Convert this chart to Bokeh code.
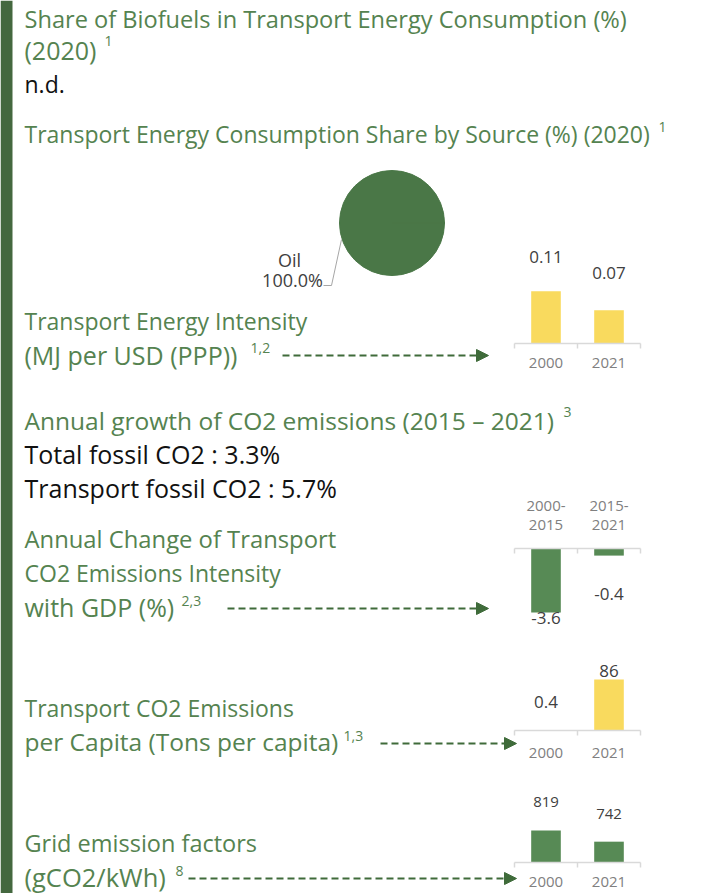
import math
from bokeh.plotting import figure
from bokeh.models import Range1d, Arrow, NormalHead, BoxAnnotation
from bokeh.core.properties import value
from bokeh.embed import file_html
from bokeh.resources import INLINE

# ---------------- data ----------------
biofuel_share = "n.d."
pie_labels = ["Oil"]
pie_values = [100.0]
intensity_years = ["2000", "2021"]
intensity_values = [0.11, 0.07]
growth_labels = ["Total fossil CO2", "Transport fossil CO2"]
growth_values = [3.3, 5.7]
change_periods = ["2000-2015", "2015-2021"]
change_values = [-3.6, -0.4]
percap_years = ["2000", "2021"]
percap_values = [0.4, 86]
grid_years = ["2000", "2021"]
grid_values = [819, 742]

# ---------------- style ----------------
W, H = 717, 893
FONT = "Open Sans"
GREEN_TXT = "#558350"
BLACK = "#111111"
DARK = "#404040"
GRAY = "#808080"
AXIS = "#d9d9d9"
YELLOW = "#f9da5e"
BAR_GREEN = "#578a55"
PIE_GREEN = "#4a7747"
BAND = "#44683f"
ARROW = "#3f6b3a"
SUP = 14     # superscript size

p = figure(width=W, height=H, x_range=Range1d(0, W), y_range=Range1d(H, 0),
           output_backend="svg", toolbar_location=None, min_border=0,
           x_axis_type=None, y_axis_type=None, outline_line_color=None,
           background_fill_color="white", border_fill_color="white",
           styles={"position": "absolute", "left": "0px", "top": "0px"})
p.grid.visible = False


def txt(x, y, s, size, color, align="left", angle=0.0):
    p.text(x=[x], y=[y], text=[s], text_font=value(FONT),
           text_font_size=f"{size}px", text_color=color,
           text_align=align, text_baseline="middle", angle=angle)


# left band
p.add_layout(BoxAnnotation(left=0, right=12, top=0, bottom=H, fill_color=BAND,
                           fill_alpha=1, line_color=None))
txt(6, 480, "Climate Change Mitigation", 8, "white", align="center", angle=math.pi / 2)

# section 1
txt(24, 18, "Share of Biofuels in Transport Energy Consumption (%)", 23.6, GREEN_TXT)
txt(24, 49, "(2020)", 25, GREEN_TXT)
txt(104, 40, "1", SUP, GREEN_TXT)
txt(24, 83, biofuel_share, 23, BLACK)

# section 2 - pie
txt(24, 133, "Transport Energy Consumption Share by Source (%) (2020)", 23, GREEN_TXT)
txt(658, 126, "1", SUP, GREEN_TXT)
total = sum(pie_values)
ang = [0.0]
for v in pie_values:
    ang.append(ang[-1] + v / total * 2 * math.pi)
p.wedge(x=[391.5] * len(pie_values), y=[222.5] * len(pie_values), radius=52.5,
        radius_units="screen", start_angle=ang[:-1], end_angle=ang[1:],
        fill_color=PIE_GREEN, line_color=PIE_GREEN)
p.line(x=[323, 331, 341], y=[285, 285, 239], line_color="#a6a6a6", line_width=1)
txt(289, 259, pie_labels[0], 18, DARK, align="center")
txt(292, 279, f"{pie_values[0]:.1f}%", 18, DARK, align="center")


def bar_chart(name, cats, vals, left, axis_y, amin, amax, span_px, cross, color,
              val_size, label_off, cat_offs, cat_lines, cat_w=63.0, bar_w=0.47):
    k = span_px / (amax - amin)
    x0 = -0.5 - left / cat_w
    p.extra_x_ranges[name] = Range1d(x0, x0 + W / cat_w)
    y0 = cross - (H - axis_y) / k
    p.extra_y_ranges[name] = Range1d(y0, y0 + H / k)
    n = len(vals)
    idx = list(range(n))
    p.vbar(x=idx, top=vals, bottom=cross, width=bar_w, fill_color=color,
           line_color=None, x_range_name=name, y_range_name=name)
    ly = [v + o / k for v, o in zip(vals, label_off)]
    lab = [f"{v:g}" for v in vals]
    p.text(x=idx, y=ly, text=lab, text_font=value(FONT), text_font_size=f"{val_size}px",
           text_color=DARK, text_align="center", text_baseline="middle",
           x_range_name=name, y_range_name=name)
    # axis line and ticks
    p.segment(x0=[-0.5], x1=[n - 0.5], y0=[cross], y1=[cross], line_color=AXIS,
              line_width=1.5, x_range_name=name, y_range_name=name)
    tx = [i - 0.5 for i in range(n + 1)]
    p.segment(x0=tx, x1=tx, y0=[cross] * (n + 1), y1=[cross - 5 / k] * (n + 1),
              line_color=AXIS, line_width=1.5, x_range_name=name, y_range_name=name)
    for li, off in enumerate(cat_offs):
        p.text(x=idx, y=[axis_y + off] * n, text=[c[li] for c in cat_lines],
               text_font=value(FONT), text_font_size="15px", text_color=GRAY,
               text_align="center", text_baseline="middle", x_range_name=name)


# section 3 - energy intensity
txt(24, 320, "Transport Energy Intensity", 23, GREEN_TXT)
txt(24, 354, "(MJ per USD (PPP))", 25, GREEN_TXT)
txt(250, 347, "1,2", SUP, GREEN_TXT)
bar_chart("int", intensity_years, intensity_values, 514, 343, 0, 0.12, 57, 0, YELLOW,
          17, [34, 37], [19], [[c] for c in intensity_years])

# section 4 - growth
txt(24, 420, "Annual growth of CO2 emissions (2015 \u2013 2021)", 24.5, GREEN_TXT)
txt(563, 411, "3", SUP, GREEN_TXT)
txt(24, 453, f"{growth_labels[0]} : {growth_values[0]}%", 25, BLACK)
txt(24, 487, f"{growth_labels[1]} : {growth_values[1]}%", 25, BLACK)

# section 5 - change of intensity
txt(24, 538, "Annual Change of Transport", 23.8, GREEN_TXT)
txt(24, 572, "CO2 Emissions Intensity", 23, GREEN_TXT)
txt(24, 606, "with GDP (%)", 25, GREEN_TXT)
txt(181, 600, "2,3", SUP, GREEN_TXT)
period_lines = [[s.split("-")[0] + "-", s.split("-")[1]] for s in change_periods]
bar_chart("chg", change_periods, change_values, 514, 548, -4, 0, 71, 0, BAR_GREEN,
          17, [-6, -38], [-43, -24], period_lines)

# section 6 - per capita
txt(24, 707, "Transport CO2 Emissions", 23, GREEN_TXT)
txt(24, 741, "per Capita (Tons per capita)", 24.5, GREEN_TXT)
txt(343, 735, "1,3", SUP, GREEN_TXT)
bar_chart("pc", percap_years, percap_values, 514, 730, 0, 100, 59.3, 0, YELLOW,
          17, [28, 9], [22], [[c] for c in percap_years])

# section 7 - grid
txt(24, 842, "Grid emission factors", 23.5, GREEN_TXT)
txt(24, 876, "(gCO2/kWh)", 25.5, GREEN_TXT)
txt(175, 870, "8", SUP, GREEN_TXT)
bar_chart("grid", grid_years, grid_values, 514, 862, 600, 900, 44, 600, BAR_GREEN,
          15, [28, 28], [19], [[c] for c in grid_years])

# dashed arrows
for xs, xe, y in [(282, 488, 355), (227, 488, 608), (380, 516, 743), (188, 516, 878)]:
    p.add_layout(Arrow(x_start=xs, y_start=y, x_end=xe, y_end=y,
                       line_color=ARROW, line_width=1.8, line_dash="7 4",
                       end=NormalHead(size=12, fill_color=ARROW, line_color=ARROW)))

open("out.html", "w").write(file_html(p, INLINE))
